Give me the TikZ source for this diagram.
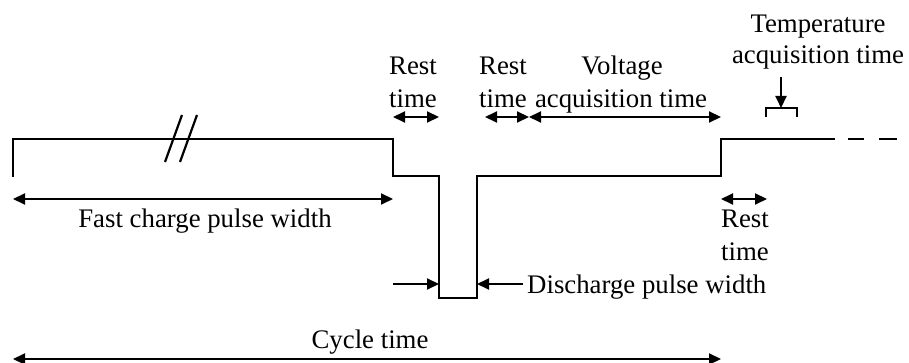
\documentclass[tikz,border=0pt]{standalone}
\usepackage{fontspec}
\setmainfont{Liberation Serif}
\usetikzlibrary{arrows.meta}
\begin{document}
\begin{tikzpicture}[x=1pt,y=-1pt,
  wave/.style={line width=2.5pt, line join=miter},
  tipA/.tip={Triangle[length=12pt,width=11pt]},
  dimboth/.style={line width=2pt, tipA-tipA},
  dimone/.style={line width=2pt, -tipA},
  lbl/.style={anchor=base, inner sep=0pt, font=\fontsize{26.8}{33}\selectfont}]
\useasboundingbox (0,0) rectangle (909,363);

% waveform
\draw[wave] (13,177) -- (13,139) -- (393,139) -- (393,176) -- (439,176) -- (439,298)
  -- (477,298) -- (477,176) -- (721,176) -- (721,139) -- (835,139);
\draw[wave] (848,139) -- (864,139);
\draw[wave] (879,139) -- (897,139);
% break marks
\draw[line width=2.2pt] (165,162) -- (182,115);
\draw[line width=2.2pt] (180,162) -- (197,115);

% coordinates
\coordinate (fcL) at (13,199);
\coordinate (fcR) at (393,199);
\coordinate (r1L) at (393,117);
\coordinate (r1R) at (439,117);
\coordinate (r2L) at (485,117);
\coordinate (r2R) at (529,117);
\coordinate (vaR) at (721,117);
\coordinate (r3L) at (721,199);
\coordinate (r3R) at (767,199);
\coordinate (taT) at (781,77);
\coordinate (taB) at (781,108);
\coordinate (dpL0) at (393,284);
\coordinate (dpL1) at (439,284);
\coordinate (dpR0) at (523,284);
\coordinate (dpR1) at (477,284);
\coordinate (cyL) at (13,359);
\coordinate (cyR) at (721,359);

% dimension arrows
\draw[dimboth] (fcL) -- (fcR);
\draw[dimboth] (r1L) -- (r1R);
\draw[dimboth] (r2L) -- (r2R);
\draw[dimboth] (r2R) -- (vaR);
\draw[dimboth] (r3L) -- (r3R);
\draw[dimone] (taT) -- (taB);
\draw[line width=2pt] (766,117) -- (766,108) -- (797,108) -- (797,117);
\draw[dimone] (dpL0) -- (dpL1);
\draw[dimone] (dpR0) -- (dpR1);
\draw[dimboth] (cyL) -- (cyR);

% labels
\node[lbl] (r1a) at (413,75) {Rest};
\node[lbl] (r1b) at (413,108) {time};
\node[lbl] (r2a) at (503,75) {Rest};
\node[lbl] (r2b) at (503,108) {time};
\node[lbl] (va1) at (622,75) {Voltage};
\node[lbl] (va2) at (621,108) {acquisition time};
\node[lbl] (ta1) at (818,33) {Temperature};
\node[lbl] (ta2) at (818,64) {acquisition time};
\node[lbl] (fc) at (205,227) {Fast charge pulse width};
\node[lbl] (r3a) at (745,227) {Rest};
\node[lbl] (r3b) at (745,260) {time};
\node[lbl, anchor=base west] (dp) at (527,293) {Discharge pulse width};
\node[lbl] (cy) at (370,348) {Cycle time};
\end{tikzpicture}
\end{document}
